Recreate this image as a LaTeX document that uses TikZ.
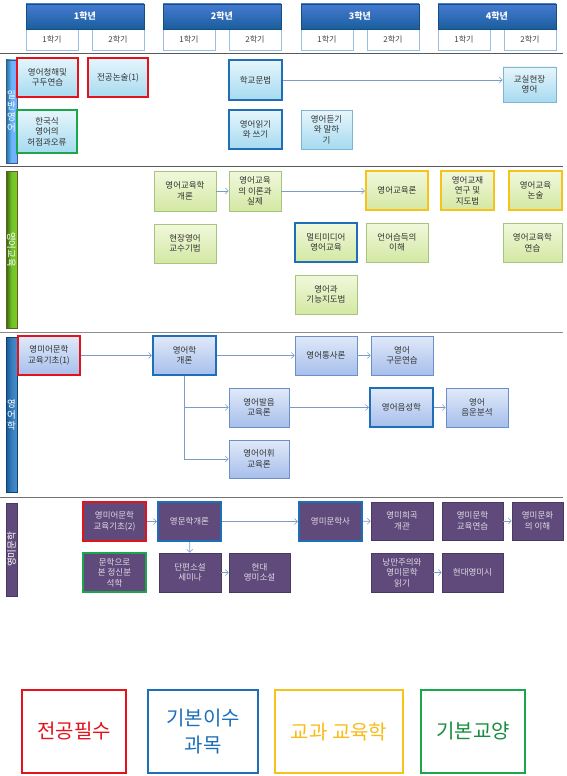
\documentclass[tikz,border=0pt]{standalone}
\usepackage{fontspec}
\setmainfont{Noto Sans CJK KR}
\usetikzlibrary{arrows.meta,shadows}
\definecolor{cred}{HTML}{E3131B}
\definecolor{cblue}{HTML}{1E6FB8}
\definecolor{cyel}{HTML}{F7C31B}
\definecolor{cgreen}{HTML}{1CA64B}
\definecolor{aonet}{HTML}{E6F6FC}
\definecolor{aoneb}{HTML}{A6DAF0}
\definecolor{aoned}{HTML}{7FB5CE}
\definecolor{atwot}{HTML}{F1F8DC}
\definecolor{atwob}{HTML}{D3E8A3}
\definecolor{atwod}{HTML}{A9C47F}
\definecolor{athrt}{HTML}{E0E9F9}
\definecolor{athrb}{HTML}{A7BFEB}
\definecolor{athrd}{HTML}{6D8FC7}
\definecolor{afour}{HTML}{604A7B}
\definecolor{afourd}{HTML}{4A3A63}
\definecolor{conn}{HTML}{7A9CC6}
\newcommand\crsbox[7]{\node[#6, minimum width={((#4)-(#2))*1pt}, minimum height={((#5)-(#3))*1pt}] (#1) at ({((#2)+(#4))/2},{((#3)+(#5))/2}) {#7};}
\begin{document}
\begin{tikzpicture}[x=1pt,y=-1pt,
  base/.style={align=center, font=\fontsize{8.5}{10.5}\selectfont, inner sep=0pt, text=black!80,
    drop shadow={shadow xshift=1.2pt,shadow yshift=-1.2pt,fill=black!40,opacity=0.45}},
  sone/.style={base, top color=aonet, bottom color=aoneb, draw=aoned, line width=0.6pt},
  stwo/.style={base, top color=atwot, bottom color=atwob, draw=atwod, line width=0.6pt},
  sthr/.style={base, top color=athrt, bottom color=athrb, draw=athrd, line width=0.6pt},
  sfour/.style={base, fill=afour, draw=afourd, line width=0.6pt, text=white!80!afour},
  rq/.style={draw=cred, line width=2.2pt},
  bq/.style={draw=cblue, line width=2.2pt},
  yq/.style={draw=cyel, line width=2.2pt},
  gq/.style={draw=cgreen, line width=2.2pt},
  hdr/.style={top color=blue!20!cblue!80, bottom color=cblue!85!black, draw=cblue!70!black, line width=0.4pt,
    text=white, font=\fontsize{9}{11}\selectfont\bfseries, inner sep=0pt,
    drop shadow={shadow xshift=1pt,shadow yshift=-1.2pt,fill=black!40,opacity=0.4}},
  sem/.style={fill=white, draw=cblue!45, line width=0.5pt, text=black!75, font=\fontsize{8}{10}\selectfont, inner sep=0pt,
    drop shadow={shadow xshift=1pt,shadow yshift=-1pt,fill=black!40,opacity=0.35}},
  sidebar/.style={inner sep=0pt, line width=0.4pt, text=white, font=\fontsize{8.5}{10}\selectfont,
    drop shadow={shadow xshift=1pt,shadow yshift=-1pt,fill=black!40,opacity=0.35}},
  sidetxt/.style={align=center, text=white, font=\fontsize{9.5}{11}\selectfont, inner sep=0pt},
  sep/.style={line width=1pt, draw=black!65},
  arr/.style={draw=conn, line width=0.6pt, -{Straight Barb[length=3pt,width=6pt]}},
  leg/.style={fill=white, line width=1.6pt, inner sep=0pt, font=\fontsize{20}{27}\selectfont, align=center,
    drop shadow={shadow xshift=1.2pt,shadow yshift=-1.2pt,fill=black!40,opacity=0.35}}
]
\useasboundingbox (0,0) rectangle (567,776);
\fill[white] (0,0) rectangle (567,776);
% header
\foreach \i/\x in {1/26,2/163,3/301,4/438}{
  \crsbox{sa\i}{\x}{29}{\x+52}{50}{sem}{1학기}
  \crsbox{sb\i}{\x+66}{29}{\x+118}{50}{sem}{2학기}
  \crsbox{yr\i}{\x}{4}{\x+118}{29}{hdr}{{\i}학년}
}
% separators
\coordinate (l1a) at (0,54); \coordinate (l1b) at (563,54);
\coordinate (l2a) at (0,166); \coordinate (l2b) at (563,166);
\coordinate (l3a) at (0,332); \coordinate (l3b) at (563,332);
\coordinate (l4a) at (0,497); \coordinate (l4b) at (563,497);
\draw[sep] (l1a) -- (l1b);
\draw[sep] (l2a) -- (l2b);
\draw[sep, draw=black!45] (l3a) -- (l3b);
\draw[sep, draw=black!55] (l4a) -- (l4b);
% side bars
\crsbox{sd1}{6}{60}{17}{163}{sidebar, left color=cblue!60!cyan!70!black, right color=cyan!50!blue!60, middle color=cyan!45!blue!55, draw=cyan!30!blue!60!black}{}
\node[sidetxt] (lb1) at (sd1) {일\\반\\영\\어};
\crsbox{sd2}{6}{171}{17}{328}{sidebar, left color=olive!70!green!60!black, right color=olive!60!green!70, middle color=green!40!olive!80, draw=olive!60!black}{}
\node[sidetxt, rotate=-90] (lb2) at (sd2) {영어교육};
\crsbox{sd3}{6}{337}{17}{492}{sidebar, left color=cblue!80!black, right color=cblue!80, middle color=cblue!90, draw=cblue!60!black}{}
\node[sidetxt] (lb3) at (sd3) {영\\어\\학};
\crsbox{sd4}{6}{503}{17}{596}{sidebar, fill=afour, draw=afourd}{}
\node[sidetxt, rotate=90] (lb4) at (sd4) {영미문학};
% section 1
\crsbox{a1}{17}{58}{78}{97}{sone,rq}{영어청해및\\구두연습}
\crsbox{a2}{88}{58}{148}{97}{sone,rq}{전공논술(1)}
\crsbox{a3}{17}{110}{77}{153}{sone,gq}{한국식\\영어의\\허점과오류}
\crsbox{a4}{229}{60}{282}{100}{sone,bq}{학교문법}
\crsbox{a5}{229}{110}{282}{149}{sone,bq}{영어읽기\\와 쓰기}
\crsbox{a6}{301}{110}{352}{149}{sone}{영어듣기\\와 말하\\기}
\crsbox{a7}{503}{67}{556}{102}{sone}{교실현장\\영어}
\draw[arr] (a4) -- (a4 -| a7.west);
% section 2
\crsbox{b1}{154}{171}{216}{211}{stwo}{영어교육학\\개론}
\crsbox{b2}{229}{171}{281}{211}{stwo}{영어교육\\의 이론과\\실제}
\crsbox{b3}{154}{224}{216}{263}{stwo}{현장영어\\교수기법}
\crsbox{b4}{366}{171}{428}{210}{stwo,yq}{영어교육론}
\crsbox{b5}{441}{171}{494}{210}{stwo,yq}{영어교재\\연구 및\\지도법}
\crsbox{b6}{509}{171}{562}{210}{stwo,yq}{영어교육\\논술}
\crsbox{b7}{295}{223}{357}{262}{stwo,bq}{멀티미디어\\영어교육}
\crsbox{b8}{366}{223}{428}{262}{stwo}{언어습득의\\이해}
\crsbox{b9}{503}{223}{562}{262}{stwo}{영어교육학\\연습}
\crsbox{b10}{295}{275}{357}{314}{stwo}{영어과\\기능지도법}
\draw[arr] (b1) -- (b2);
\draw[arr] (b2.east) -- (b2.east -| b4.west);
% section 3
\crsbox{c1}{18}{336}{80}{375}{sthr,rq}{영미어문학\\교육기초(1)}
\crsbox{c2}{153}{336}{216}{375}{sthr,bq}{영어학\\개론}
\crsbox{c3}{295}{336}{357}{375}{sthr}{영어통사론}
\crsbox{c4}{371}{336}{433}{375}{sthr}{영어\\구문연습}
\crsbox{c5}{229}{388}{289}{427}{sthr}{영어발음\\교육론}
\crsbox{c6}{229}{440}{289}{478}{sthr}{영어어휘\\교육론}
\crsbox{c7}{370}{388}{433}{427}{sthr,bq}{영어음성학}
\crsbox{c8}{446}{388}{508}{427}{sthr}{영어\\음운분석}
\draw[arr] (c1) -- (c2);
\draw[arr] (c2) -- (c3);
\draw[arr] (c3) -- (c4);
\draw[arr] (c2.south) |- (c5.west);
\draw[arr] (c2.south) |- (c6.west);
\draw[arr] (c5) -- (c7);
\draw[arr] (c7) -- (c8);
% section 4
\crsbox{d1}{83}{502}{146}{541}{sfour,rq}{영미어문학\\교육기초(2)}
\crsbox{d2}{158}{502}{221}{541}{sfour,bq}{영문학개론}
\crsbox{d3}{83}{553}{146}{592}{sfour,gq}{문학으로\\본 정신분\\석학}
\crsbox{d4}{159}{553}{221}{592}{sfour}{단편소설\\세미나}
\crsbox{d5}{229}{553}{290}{592}{sfour}{현대\\영미소설}
\crsbox{d6}{299}{502}{362}{541}{sfour,bq}{영미문학사}
\crsbox{d7}{371}{502}{433}{540}{sfour}{영미희곡\\개관}
\crsbox{d8}{442}{502}{503}{540}{sfour}{영미문학\\교육연습}
\crsbox{d9}{512}{502}{563}{540}{sfour}{영미문화\\의 이해}
\crsbox{d10}{371}{553}{433}{592}{sfour}{낭만주의와\\영미문학\\읽기}
\crsbox{d11}{442}{553}{503}{592}{sfour}{현대영미시}
\draw[arr] (d1) -- (d2);
\draw[arr] (d2) -- (d6);
\draw[arr] (d6) -- (d7);
\draw[arr] (d8) -- (d9);
\draw[arr] (d2) -- (d4);
\draw[arr] (d4) -- (d5);
\draw[arr] (d10) -- (d11);
% legend
\crsbox{e1}{22}{690}{126}{773}{leg, draw=cred, text=cred}{전공필수}
\crsbox{e2}{148}{690}{258}{773}{leg, draw=cblue, text=cblue}{기본이수\\과목}
\crsbox{e3}{275}{690}{403}{773}{leg, draw=cyel, text=cyel!90!orange}{교과 교육학}
\crsbox{e4}{421}{690}{525}{773}{leg, draw=cgreen, text=cgreen!85!black}{기본교양}
\end{tikzpicture}
\end{document}
